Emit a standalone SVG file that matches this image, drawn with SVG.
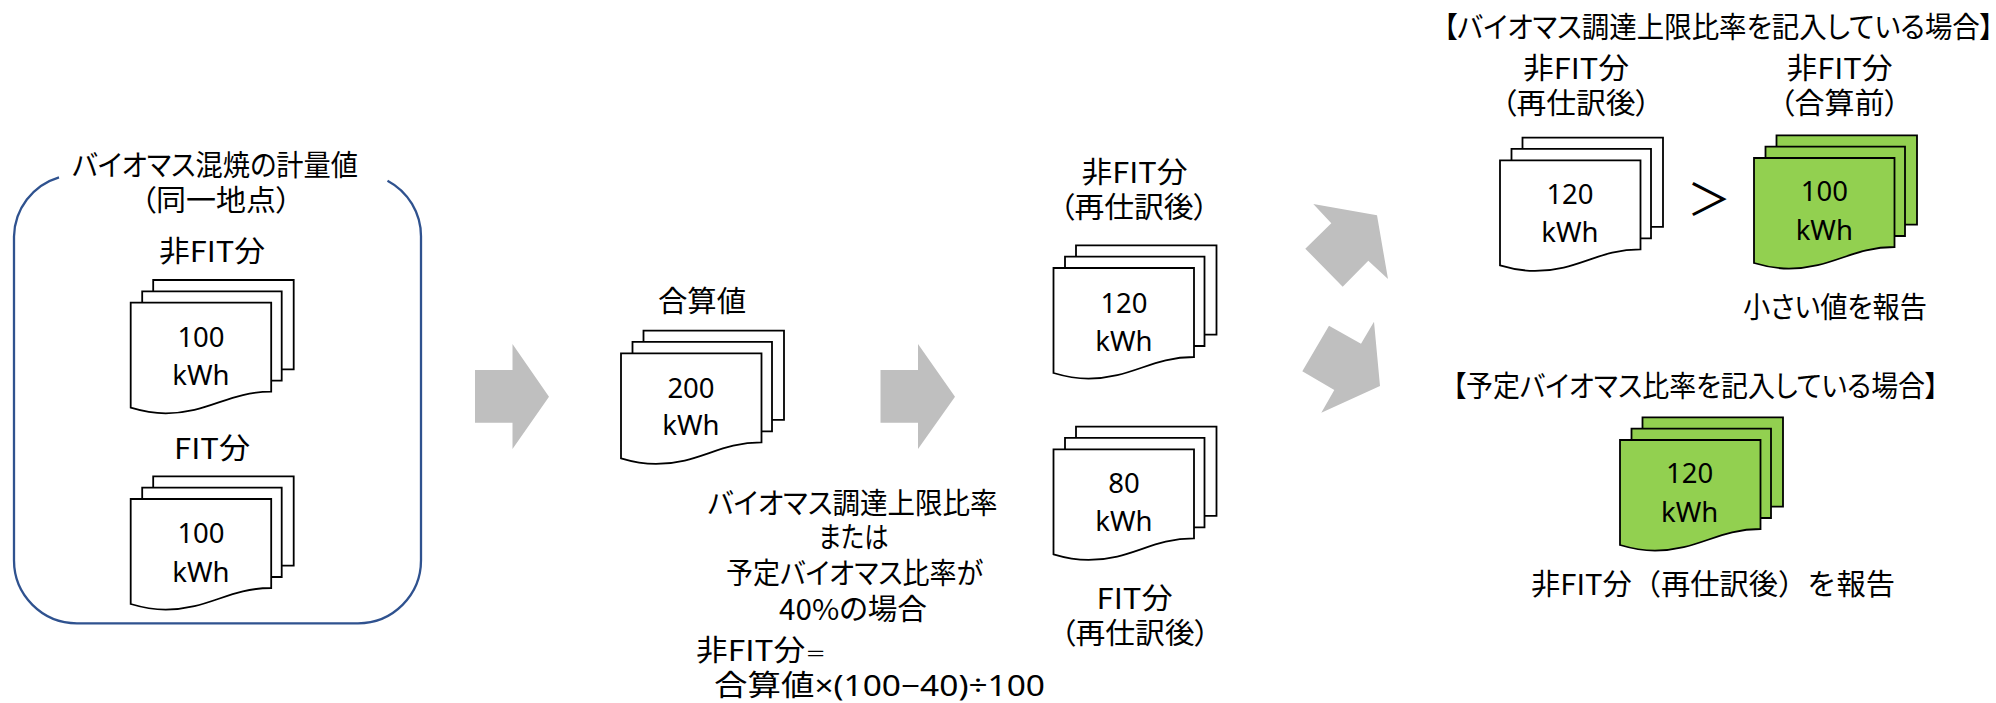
<svg xmlns="http://www.w3.org/2000/svg" width="1996" height="703" viewBox="0 0 1996 703">
<style>
text{font-family:"Noto Sans CJK JP","Noto Sans",sans-serif;font-size:29px;fill:#000;text-anchor:middle;font-feature-settings:"palt"}
text.n{font-family:"Noto Sans",sans-serif;font-size:27.5px;font-feature-settings:normal}
tspan.n{font-family:"Noto Sans",sans-serif;font-size:29px;font-feature-settings:normal}
tspan.e{font-size:19px}
text.f{font-feature-settings:normal}
.s{text-anchor:start}
.sheet path{stroke:#000;stroke-width:1.8;stroke-linejoin:miter}
.w{fill:#fff}
.g{fill:#92d050}
.arrow{fill:#bfbfbf;stroke:none}
</style>
<defs>
<g id="stack" class="sheet">
<path d="M22.5,0V-22.7H163V66.6H22.5Z"/>
<path d="M11.5,0V-11.4H151V78H11.5Z"/>
<path d="M0,0H140.5V89C98,89 78,110.6 35,110.6C22,110.6 10,108 0,105Z"/>
</g>
</defs>
<rect width="1996" height="703" fill="#fff"/>
<g id="connectors">
<path class="arrow" d="M475,370H512.5V344L549,396.7L512.5,449V422.7H475Z"/>
<path class="arrow" d="M880.5,370H918V344L955,396.7L918,449V422.7H880.5Z"/>
<path class="arrow" d="M1313.3,204L1377,215.3L1388,279L1368.3,260.7L1342.7,286.7L1305.3,248.7L1331.3,223.3Z"/>
<path class="arrow" d="M1374,321.7L1380,386L1321.3,412.7L1334.3,390L1302.3,371.3L1329,325.7L1361,343.7Z"/>
</g>
<g id="group-meter">
<path d="M59,177.3A63,63 0 0 0 14,236.5V560.3A63,63 0 0 0 77,623.3H358A63,63 0 0 0 421,560.3V236.5A63,63 0 0 0 387.5,180.7" fill="none" stroke="#2f528f" stroke-width="2.3"/>
<text x="215" y="176" textLength="286" lengthAdjust="spacingAndGlyphs">バイオマス混焼の計量値</text>
<text x="216" y="210.5" textLength="150" lengthAdjust="spacingAndGlyphs">（同一地点）</text>
</g>
<g id="node-nonfit-100">
<text x="212" y="261.5" textLength="106" lengthAdjust="spacingAndGlyphs">非FIT分</text>
<use href="#stack" class="w" x="130.7" y="302.7"/>
<text class="n" x="201" y="346.7">100</text><text class="n" x="201" y="385">kWh</text>
</g>
<g id="node-fit-100">
<text x="212" y="459" textLength="76" lengthAdjust="spacingAndGlyphs">FIT分</text>
<use href="#stack" class="w" x="130.7" y="499"/>
<text class="n" x="201" y="543.3">100</text><text class="n" x="201" y="581.7">kWh</text>
</g>
<g id="node-sum">
<text x="702" y="312" textLength="88" lengthAdjust="spacingAndGlyphs">合算値</text>
<use href="#stack" class="w" x="621" y="353.3"/>
<text class="n" x="691" y="397.7">200</text><text class="n" x="691" y="435">kWh</text>
</g>
<g id="note">
<text x="852.6" y="514" textLength="290" lengthAdjust="spacingAndGlyphs">バイオマス調達上限比率</text>
<text x="853.5" y="547.5" textLength="70" lengthAdjust="spacingAndGlyphs">または</text>
<text x="854.5" y="583.5" textLength="257" lengthAdjust="spacingAndGlyphs">予定バイオマス比率が</text>
<text x="853" y="620" textLength="148" lengthAdjust="spacingAndGlyphs">40%の場合</text>
<text class="s" x="696" y="661" textLength="130" lengthAdjust="spacingAndGlyphs">非FIT分<tspan class="e">＝</tspan></text>
<text class="s" x="714" y="695.5" textLength="331" lengthAdjust="spacingAndGlyphs">合算値<tspan class="n">×(100−40)÷100</tspan></text>
</g>
<g id="node-nonfit-120">
<text x="1134.5" y="182.5" textLength="106" lengthAdjust="spacingAndGlyphs">非FIT分</text>
<text x="1134" y="218" textLength="149" lengthAdjust="spacingAndGlyphs">（再仕訳後）</text>
<use href="#stack" class="w" x="1053.5" y="268"/>
<text class="n" x="1124" y="312.7">120</text><text class="n" x="1124" y="351">kWh</text>
</g>
<g id="node-fit-80">
<use href="#stack" class="w" x="1053.5" y="449.3"/>
<text class="n" x="1124" y="493">80</text><text class="n" x="1124" y="530.7">kWh</text>
<text x="1134.5" y="608.5" textLength="76" lengthAdjust="spacingAndGlyphs">FIT分</text>
<text x="1135" y="644" textLength="149" lengthAdjust="spacingAndGlyphs">（再仕訳後）</text>
</g>
<g id="case-upper">
<text x="1718.5" y="38" textLength="550" lengthAdjust="spacingAndGlyphs">【バイオマス調達上限比率を記入している場合】</text>
</g>
<g id="node-upper-120">
<text x="1576" y="78.5" textLength="106" lengthAdjust="spacingAndGlyphs">非FIT分</text>
<text x="1576" y="114" textLength="149" lengthAdjust="spacingAndGlyphs">（再仕訳後）</text>
<use href="#stack" class="w" x="1500" y="160.3"/>
<text class="n" x="1570" y="204">120</text><text class="n" x="1570" y="242.3">kWh</text>
</g>
<text id="compare" class="f" x="1709" y="216" style="font-size:44px">＞</text>
<g id="node-upper-100">
<text x="1839.5" y="78.5" textLength="106" lengthAdjust="spacingAndGlyphs">非FIT分</text>
<text x="1839.5" y="114" textLength="120" lengthAdjust="spacingAndGlyphs">（合算前）</text>
<use href="#stack" class="g" x="1754" y="158"/>
<text class="n" x="1824.3" y="201">100</text><text class="n" x="1824.3" y="240">kWh</text>
<text x="1835" y="317.5" textLength="184" lengthAdjust="spacingAndGlyphs">小さい値を報告</text>
</g>
<g id="case-lower">
<text x="1695.5" y="397" textLength="486" lengthAdjust="spacingAndGlyphs">【予定バイオマス比率を記入している場合】</text>
</g>
<g id="node-lower-120">
<use href="#stack" class="g" x="1620" y="440"/>
<text class="n" x="1689.6" y="483.3">120</text><text class="n" x="1689.6" y="522.3">kWh</text>
<text class="f" x="1713" y="595" textLength="364" lengthAdjust="spacingAndGlyphs">非FIT分（再仕訳後）を報告</text>
</g>
</svg>
